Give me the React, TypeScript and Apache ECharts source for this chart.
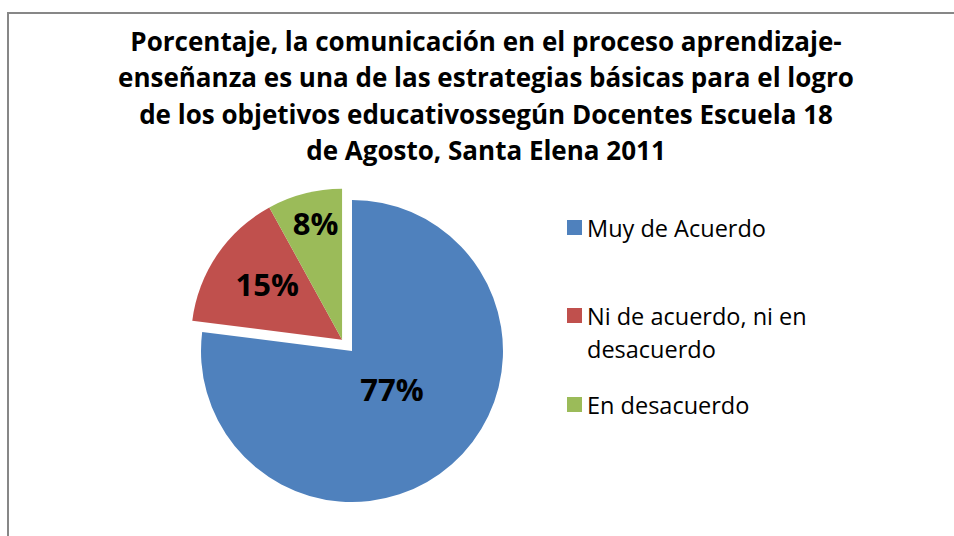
import React, { useEffect, useRef } from "react";
import * as echarts from "echarts";

const titleLines = [
  "Porcentaje, la comunicación en el proceso aprendizaje-",
  "enseñanza es una de las estrategias básicas para el logro",
  "de los objetivos educativossegún Docentes Escuela 18",
  "de Agosto, Santa Elena 2011",
];
const categories = ["Muy de Acuerdo", "Ni de acuerdo, ni en desacuerdo", "En desacuerdo"];
const legendLabels = ["Muy de Acuerdo", "\nNi de acuerdo, ni en\ndesacuerdo", "En desacuerdo"];
const values = [77, 15, 8];
const colors = ["#4F81BD", "#C0504D", "#9BBB59"];

const FONT = "'Open Sans', sans-serif";

export default function App() {
  const ref = useRef<HTMLDivElement>(null);
  useEffect(() => {
    if (!ref.current) return;
    const chart = echarts.init(ref.current, null, { renderer: "svg" });
    const total = values.reduce((a, b) => a + b, 0);
    const cx = 352, cy = 351, r = 151, explode = 15;
    // mid-angle of the exploded group (red + green), measured clockwise from 12 o'clock
    const groupFrac = (values[1] + values[2]) / total;
    const midDeg = 360 - (groupFrac * 360) / 2;
    const rad = (midDeg * Math.PI) / 180;
    const gx = cx + Math.sin(rad) * explode;
    const gy = cy - Math.cos(rad) * explode;

    const labelStyle = {
      show: true,
      position: "inside",
      formatter: (p: any) => Math.round(p.value) + "%",
      color: "#000",
      fontSize: 31,
      fontWeight: "bold",
      fontFamily: FONT,
    };
    const hidden = { color: "transparent" };
    const noLabel = { show: false };

    const labelShift: Record<string, [number, number]> = {
      "0-0": [-12, -21],
      "1-1": [-10, -12],
      "1-2": [-7, -41],
    };
    const labelLayout = (p: any) => {
      const s = labelShift[p.seriesIndex + "-" + p.dataIndex];
      return s ? { dx: s[0], dy: s[1] } : {};
    };

    const legendTops = [211, 266, 388];
    const legends = categories.map((c, i) => ({
      orient: "vertical",
      left: 567,
      top: legendTops[i],
      itemWidth: 15,
      itemHeight: 15,
      itemGap: 0,
      icon: "rect",
      selectedMode: false,
      padding: 0,
      data: [c],
      formatter: () => legendLabels[i],
      textStyle: {
        fontFamily: FONT,
        fontSize: 23.5,
        lineHeight: 33,
        color: "#000",
      },
    }));

    chart.setOption({
      animation: false,
      title: {
        text: titleLines.join("\n"),
        left: 486,
        textAlign: "center",
        top: 23,
        padding: 0,
        textStyle: {
          fontFamily: FONT,
          fontSize: 26,
          fontWeight: "bold",
          lineHeight: 36.3,
          color: "#000",
        },
      },
      legend: legends,
      graphic: [
        {
          type: "rect",
          shape: { x: 8, y: 13, width: 960, height: 540 },
          style: { fill: "none", stroke: "#878787", lineWidth: 2 },
          silent: true,
          z: 0,
        },
      ],
      series: [
        {
          type: "pie",
          center: [cx, cy],
          radius: [0, r],
          startAngle: 90,
          clockwise: true,
          silent: true,
          emphasis: { disabled: true },
          labelLine: { show: false },
          labelLayout,
          data: [
            { name: categories[0], value: values[0], itemStyle: { color: colors[0] }, label: labelStyle },
            { name: "_rest", value: values[1] + values[2], itemStyle: hidden, label: noLabel },
          ],
        },
        {
          type: "pie",
          center: [gx, gy],
          radius: [0, r],
          startAngle: 90,
          clockwise: true,
          silent: true,
          emphasis: { disabled: true },
          labelLine: { show: false },
          labelLayout,
          data: [
            { name: "_blue", value: values[0], itemStyle: hidden, label: noLabel },
            { name: categories[1], value: values[1], itemStyle: { color: colors[1] }, label: labelStyle },
            { name: categories[2], value: values[2], itemStyle: { color: colors[2] }, label: labelStyle },
          ],
        },
      ],
    });
    return () => chart.dispose();
  }, []);
  return (
    <div
      ref={ref}
      style={{ position: "fixed", left: 0, top: 0, width: 954, height: 536, background: "#fff" }}
    />
  );
}
